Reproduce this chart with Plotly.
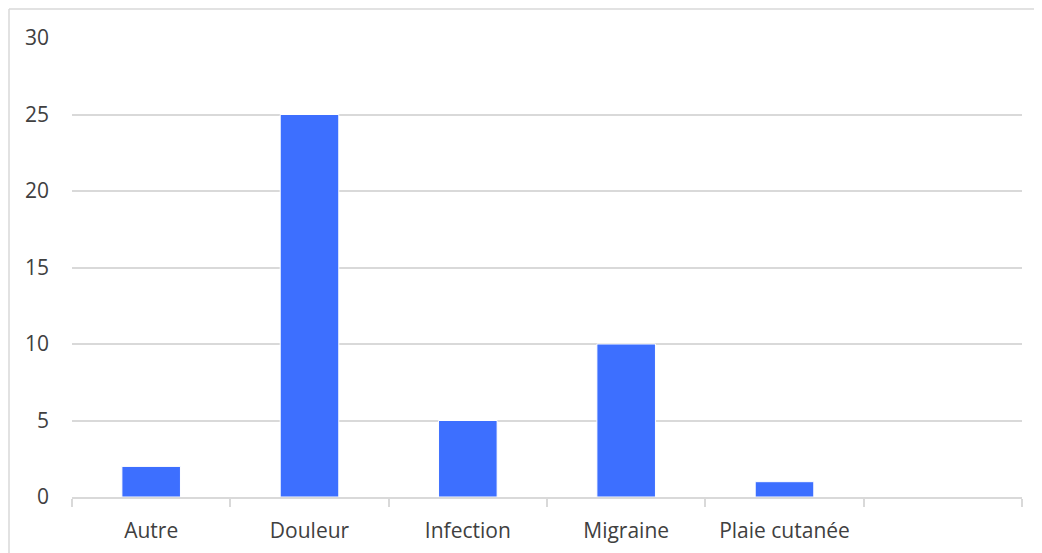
import plotly.graph_objects as go

# categories (last slot is empty in the source chart)
categories = ["Autre", "Douleur", "Infection", "Migraine", "Plaie cutanée", " "]
values = [2, 25, 5, 10, 1, None]
y_ticks = [0, 5, 10, 15, 20, 25, 30]

bar_color = "#3D6FFF"
grid_color = "#D9D9D9"
text_color = "#404040"

fig = go.Figure()
fig.add_trace(go.Bar(
    x=categories, y=values,
    marker=dict(color=bar_color, line=dict(color="white", width=1)),
    width=0.37,
))

# page body has an 8px margin, so the figure starts at (8, 8)
OFF = 8
W, H = 1042 - OFF, 553 - OFF
L, T = 72 - OFF, 38 - OFF
R = W - (1022 - OFF)
B = H - (497 - OFF)
pw, ph = W - L - R, H - T - B

fig.update_layout(
    width=W, height=H,
    margin=dict(l=L, r=R, t=T, b=B),
    plot_bgcolor="white", paper_bgcolor="white",
    font=dict(family="Open Sans", size=21, color=text_color),
    showlegend=False,
)
fig.update_xaxes(
    type="category", tickson="boundaries", automargin=False,
    showline=True, linecolor=grid_color, linewidth=1.5,
    ticks="outside", ticklen=8, tickcolor=grid_color, tickwidth=1.5,
    showgrid=False, ticklabelstandoff=14,
)
fig.update_yaxes(
    range=[0, 30], tickvals=y_ticks, automargin=False,
    showgrid=True, gridcolor=grid_color, gridwidth=1.5,
    zeroline=False, showline=False, ticks="", ticklabelstandoff=22,
)

# outer chart border: only its top and left edges are inside the crop
bx = (1 - L) / pw
by = 1 + (T - 1) / ph
border = dict(color=grid_color, width=1.5)
fig.add_shape(type="line", xref="paper", yref="paper",
              x0=bx, x1=(W - L) / pw, y0=by, y1=by, line=border)
fig.add_shape(type="line", xref="paper", yref="paper",
              x0=bx, x1=bx, y0=by, y1=-(H - T - ph) / ph, line=border)

fig.write_html("out.html")
